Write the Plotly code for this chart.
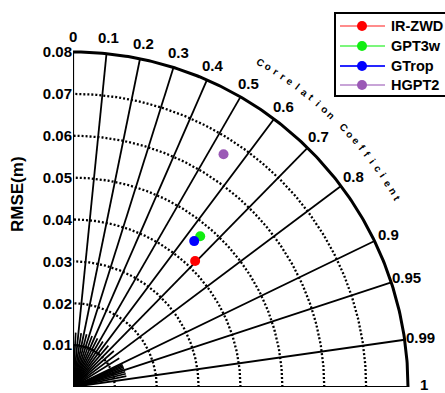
import numpy as np
import plotly.graph_objects as go

# ---- data ----
models = ["IR-ZWD", "GPT3w", "GTrop", "HGPT2"]
corr_vals = [0.696, 0.645, 0.639, 0.543]
rmse_vals = [0.0419, 0.0471, 0.0453, 0.0662]
colors = ["#ff0000", "#11ee11", "#0000ff", "#9b59b6"]
legend_line_colors = ["rgba(255,0,0,0.45)", "rgba(17,238,17,0.55)", "rgba(0,0,255,0.85)", "rgba(155,89,182,0.55)"]

corr_ticks = [0, 0.1, 0.2, 0.3, 0.4, 0.5, 0.6, 0.7, 0.8, 0.9, 0.95, 0.99, 1]
corr_labels = ["0", "0.1", "0.2", "0.3", "0.4", "0.5", "0.6", "0.7", "0.8", "0.9", "0.95", "0.99", "1"]
minor_corr = [0.05, 0.15, 0.25, 0.35, 0.45, 0.55, 0.65, 0.75, 0.85, 0.91, 0.92, 0.93, 0.94, 0.96, 0.97, 0.98]
rmse_ticks = [0, 0.01, 0.02, 0.03, 0.04, 0.05, 0.06, 0.07, 0.08]
rmse_labels = ["0", "0.01", "0.02", "0.03", "0.04", "0.05", "0.06", "0.07", "0.08"]
axis_title = "RMSE(m)"
arc_title = "Correlation Coefficient"

RMAX = rmse_ticks[-1]
S = 4187.5  # px per unit
ML, MB = 73, 6
W, H = 445, 393
PW, PH = W - ML, H - MB

FONT = "Liberation Sans, Arial, sans-serif"

fig = go.Figure()


def polar_xy(r, c):
    th = np.arccos(np.clip(c, -1, 1))
    return r * np.cos(th), r * np.sin(th)


def px_to_paper(px, py):
    return (px - ML) / PW, (PH - py) / PH


# dotted RMSE arcs
th = np.linspace(0, np.pi / 2, 200)
for r in rmse_ticks[1:-1]:
    fig.add_trace(go.Scatter(x=r * np.cos(th), y=r * np.sin(th), mode="lines",
                             line=dict(color="black", width=2.3, dash="2px,2px"),
                             showlegend=False, hoverinfo="skip"))
# small solid arc near origin
th2 = np.linspace(np.arccos(0.66), np.pi / 2, 60)
fig.add_trace(go.Scatter(x=0.01 * np.cos(th2), y=0.01 * np.sin(th2), mode="lines",
                         line=dict(color="black", width=2), showlegend=False, hoverinfo="skip"))
# minor spokes
for c in minor_corr:
    x, y = polar_xy(np.array([0, 0.013]), c)
    fig.add_trace(go.Scatter(x=x, y=y, mode="lines", line=dict(color="black", width=1.7),
                             showlegend=False, hoverinfo="skip"))
# major spokes
for c in corr_ticks:
    x, y = polar_xy(np.array([0, RMAX]), c)
    w = 2.2 if c in (0, 1) else 1.8
    fig.add_trace(go.Scatter(x=x, y=y, mode="lines", line=dict(color="black", width=w),
                             showlegend=False, hoverinfo="skip"))
# outer arc
fig.add_trace(go.Scatter(x=RMAX * np.cos(th), y=RMAX * np.sin(th), mode="lines",
                         line=dict(color="black", width=3), showlegend=False, hoverinfo="skip"))

# data points
for m, c, r, col in zip(models, corr_vals, rmse_vals, colors):
    x, y = polar_xy(r, c)
    fig.add_trace(go.Scatter(x=[x], y=[y], mode="markers", name=m,
                             marker=dict(color=col, size=10), showlegend=False))

annotations = []
shapes = []
rl = 351 / S
for c, lab in zip(corr_ticks, corr_labels):
    x, y = polar_xy(rl, c)
    annotations.append(dict(x=x, y=y, xref="x", yref="y", text=lab, showarrow=False,
                            xanchor="center", yanchor="middle",
                            yshift=3 if c == 1 else 0,
                            font=dict(family=FONT, size=15, color="black", weight="bold")))

rt = 375 / S
angs = np.linspace(60.0, 30.2, len(arc_title))
for ch, a in zip(arc_title, angs):
    if ch == " ":
        continue
    x, y = rt * np.cos(np.radians(a)), rt * np.sin(np.radians(a))
    annotations.append(dict(x=x, y=y, xref="x", yref="y", text=ch, showarrow=False,
                            xanchor="center", yanchor="middle", textangle=90 - a,
                            font=dict(family=FONT, size=10, color="black", weight="bold")))

ax, ay = px_to_paper(18, 194)
annotations.append(dict(x=ax, y=ay, xref="paper", yref="paper",
                        text=axis_title, showarrow=False, textangle=-90,
                        xanchor="center", yanchor="middle",
                        font=dict(family=FONT, size=17, color="black", weight="bold")))

# ---- manual legend ----
bx0, by1 = px_to_paper(335, 13)
bx1, by0 = px_to_paper(447, 96)
shapes.append(dict(type="rect", xref="paper", yref="paper", x0=bx0, x1=bx1, y0=by0, y1=by1,
                   line=dict(color="black", width=2), fillcolor="white", layer="below"))
leg_y = [26, 46, 66, 85]
for m, col, lc, ly in zip(models, colors, legend_line_colors, leg_y):
    lx0, lyp = px_to_paper(340, ly)
    lx1, _ = px_to_paper(385, ly)
    shapes.append(dict(type="line", xref="paper", yref="paper", x0=lx0, x1=lx1, y0=lyp, y1=lyp,
                       line=dict(color=lc, width=2), layer="below"))
    tx, ty = px_to_paper(389, ly)
    annotations.append(dict(x=tx, y=ty, xref="paper", yref="paper", text=m, showarrow=False,
                            xanchor="left", yanchor="middle",
                            font=dict(family=FONT, size=14.5, color="black", weight="bold")))

fig.update_layout(
    width=W, height=H,
    margin=dict(l=ML, r=0, t=0, b=MB, pad=0),
    plot_bgcolor="white", paper_bgcolor="white",
    xaxis=dict(range=[0, PW / S], visible=False, fixedrange=True),
    yaxis=dict(range=[0, PH / S], tickvals=rmse_ticks, ticktext=rmse_labels,
               showgrid=False, zeroline=False, showline=False, ticks="",
               tickfont=dict(family=FONT, size=15, color="black", weight="bold"),
               fixedrange=True),
    showlegend=False,
    shapes=shapes,
    annotations=annotations,
)

# legend markers on an overlaid pixel-based axis pair
fig.add_trace(go.Scatter(
    x=[362 - ML] * len(models), y=[PH - ly for ly in leg_y], mode="markers",
    marker=dict(color=colors, size=10), xaxis="x2", yaxis="y2",
    showlegend=False, hoverinfo="skip", cliponaxis=False))
fig.update_layout(
    xaxis2=dict(range=[0, PW], overlaying="x", visible=False, fixedrange=True),
    yaxis2=dict(range=[0, PH], overlaying="y", visible=False, fixedrange=True),
)

fig.write_html("out.html")
